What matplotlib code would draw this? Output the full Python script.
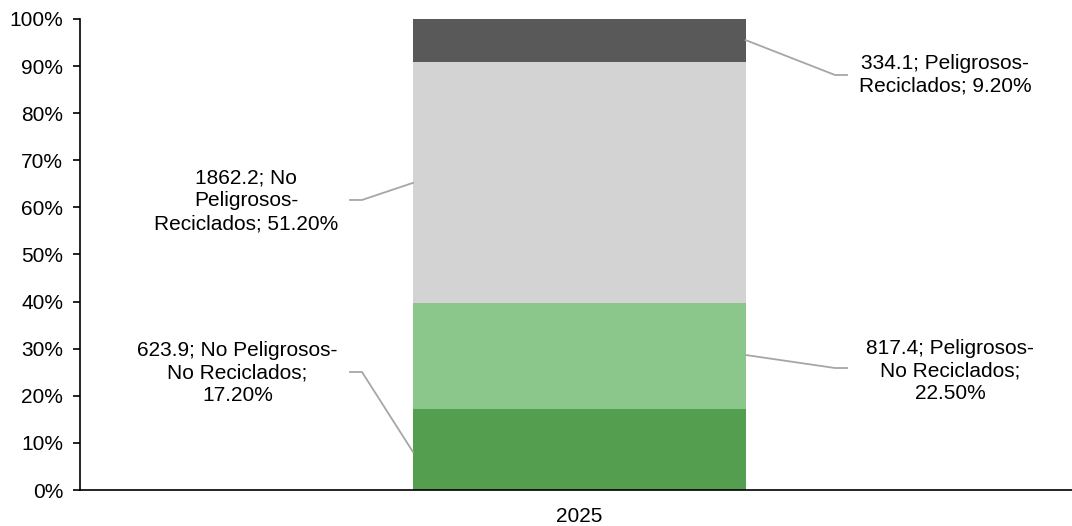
import matplotlib
matplotlib.use("Agg")
import matplotlib.pyplot as plt
from matplotlib.ticker import PercentFormatter

plt.rcParams['font.family'] = ['Liberation Sans', 'DejaVu Sans']

# data
category = ['2025']
series = ['No Peligrosos-No Reciclados', 'Peligrosos-No Reciclados',
          'No Peligrosos-Reciclados', 'Peligrosos-Reciclados']
values = [623.9, 817.4, 1862.2, 334.1]
label_texts = ['623.9; No Peligrosos-\nNo Reciclados;\n17.20%',
               '817.4; Peligrosos-\nNo Reciclados;\n22.50%',
               '1862.2; No\nPeligrosos-\nReciclados; 51.20%',
               '334.1; Peligrosos-\nReciclados; 9.20%']
colors = ['#539F4F', '#8BC68A', '#D3D3D3', '#595959']

total = sum(values)
shares = [v / total for v in values]

fig = plt.figure(figsize=(10.72, 5.26), dpi=100)
ax = fig.add_axes([0.0746, 0.0684, 0.9254, 0.8956])

bottom = 0
for s, c, name in zip(shares, colors, series):
    ax.bar(0, s, width=0.3354, bottom=bottom, color=c, label=name,
           edgecolor=c, linewidth=0)
    bottom += s

ax.set_xlim(-0.5034, 0.4966)
ax.set_ylim(0, 1)
ax.set_yticks([i / 10 for i in range(11)])
ax.yaxis.set_major_formatter(PercentFormatter(1.0, decimals=0))
ax.set_xticks([0])
ax.set_xticklabels(category)
ax.tick_params(axis='x', length=0, pad=12, labelsize=15)
ax.tick_params(axis='y', length=5, width=1.2, labelsize=15, pad=7)
for sp in ['top', 'right']:
    ax.spines[sp].set_visible(False)
ax.spines['left'].set_linewidth(1.2)
ax.spines['bottom'].set_linewidth(1.2)

# data labels with leader lines (bar edge -> elbow -> text)
leaders = [
    ([-0.1677, -0.2191, -0.2312], [0.0807, 0.2505, 0.2505], -0.3446, 0.248),
    ([0.1677, 0.2577, 0.2698], [0.2866, 0.259, 0.259], 0.3736, 0.2527),
    ([-0.1677, -0.2191, -0.2312], [0.652, 0.6157, 0.6157], -0.3361, 0.6136),
    ([0.1677, 0.2577, 0.2698], [0.955, 0.881, 0.881], 0.3686, 0.881),
]
for (lx, ly, tx, ty), txt in zip(leaders, label_texts):
    ax.plot(lx, ly, color='#A6A6A6', lw=1.3, clip_on=False, zorder=3)
    ax.text(tx, ty, txt, ha='center', va='center', fontsize=15,
            linespacing=1.25)

fig.savefig('out.png', dpi=100)
